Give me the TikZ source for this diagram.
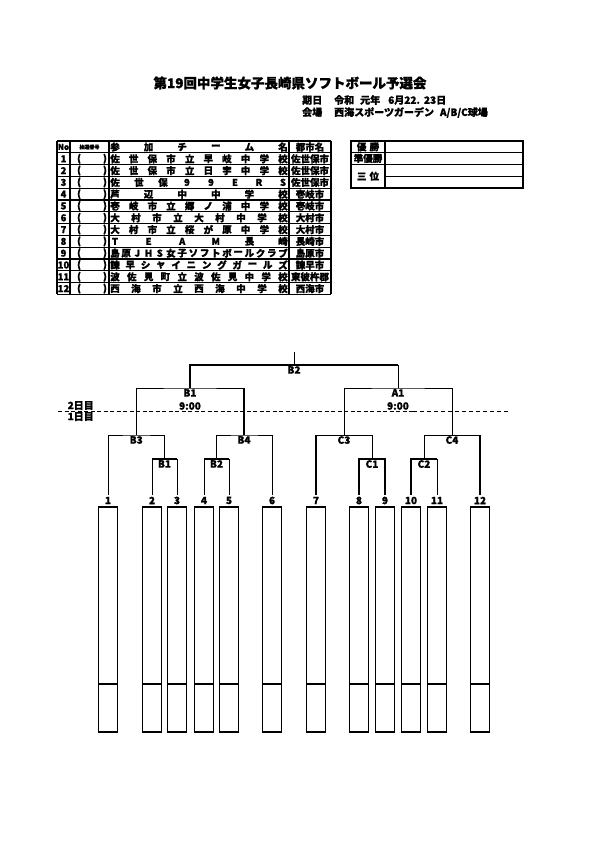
\documentclass[tikz,border=0pt]{standalone}
\usepackage{fontspec}
\setmainfont{Noto Sans CJK JP}[BoldFeatures={FakeBold=1.2}]
\tikzset{
  frame/.style={line width=1.2pt},
  leg/.style={line width=0.7pt},
  won/.style={line width=1.8pt},
  lbl/.style={font=\bfseries\fontsize{10}{10}\selectfont, inner sep=1pt},
  cell/.style={font=\bfseries\fontsize{9.5}{9.5}\selectfont, inner sep=0pt},
  tiny/.style={font=\bfseries\fontsize{5}{5}\selectfont, inner sep=0pt},
}
% spread the characters of a team name over the name column
\newcommand\teamrow[3]{%
  \foreach \ch [count=\k] in {#3}
    \node[cell] (t#1-\k) at ({115+(\k-1)*168/(#2-1)},{147+11.8*#1}) {\ch};}
\begin{document}
\begin{tikzpicture}[x=1pt,y=-1pt]
	\useasboundingbox (0,0) rectangle (595,842);
	% heading
	\node[font=\bfseries\fontsize{13.5}{13.5}\selectfont, inner sep=0pt] (title) at (290,83) {第19回中学生女子長崎県ソフトボール予選会};
	\node[font=\bfseries\fontsize{10}{10}\selectfont, inner sep=0pt, anchor=west] (date) at (302,100) {期日\hspace{12pt}令和\hspace{6pt}元年\hspace{8pt}6月22.\hspace{4pt}23日};
	\node[font=\bfseries\fontsize{10}{10}\selectfont, inner sep=0pt, anchor=west] (place) at (302,112.5) {会場\hspace{12pt}西海スポーツガーデン\hspace{6pt}A/B/C球場};
	% team list
	\foreach \y in {0,...,13} \draw[frame] (57,141+11.8*\y) -- (331,141+11.8*\y);
	\foreach \x in {57,70,109,289,331} \draw[frame] (\x,141) -- (\x,294.4);
	\node[cell] (hNo) at (63.5,147) {\fontsize{8}{8}\selectfont No};
	\node[tiny] (hLot) at (89.5,147) {抽選番号};
	\teamrow{0}{6}{参,加,チ,ー,ム,名}
	\node[cell] (hCity) at (310,147) {都市名};
	\foreach \i in {1,...,12} {
		\node[cell] (no\i) at (63.5,{147+11.8*\i}) {\i};
		\node[cell] (lo\i) at (79,{147+11.8*\i}) {(};
		\node[cell] (lc\i) at (105,{147+11.8*\i}) {)};
	}
	\teamrow{1}{10}{佐,世,保,市,立,早,岐,中,学,校}
	\teamrow{2}{10}{佐,世,保,市,立,日,宇,中,学,校}
	\teamrow{3}{8}{佐,世,保,9,9,E,R,S}
	\teamrow{4}{6}{芦,辺,中,中,学,校}
	\teamrow{5}{10}{壱,岐,市,立,郷,ノ,浦,中,学,校}
	\teamrow{6}{9}{大,村,市,立,大,村,中,学,校}
	\teamrow{7}{10}{大,村,市,立,桜,が,原,中,学,校}
	\teamrow{8}{6}{T,E,A,M,長,崎}
	\teamrow{9}{16}{島,原,J,H,S,女,子,ソ,フ,ト,ボ,ー,ル,ク,ラ,ブ}
	\teamrow{10}{12}{諫,早,シ,ャ,イ,ニ,ン,グ,ガ,ー,ル,ズ}
	\teamrow{11}{11}{波,佐,見,町,立,波,佐,見,中,学,校}
	\teamrow{12}{9}{西,海,市,立,西,海,中,学,校}
	\foreach \c [count=\i] in {佐世保市,佐世保市,佐世保市,壱岐市,壱岐市,大村市,大村市,長崎市,島原市,諫早市,東彼杵郡,西海市}
		\node[cell] (city\i) at (310,{147+11.8*\i}) {\c};
	% results
	\draw[frame] (351,141) rectangle (523,188) (385,141) -- (385,188)
		(351,152.5) -- (523,152.5) (351,164.3) -- (523,164.3) (385,176.3) -- (523,176.3);
	\node[cell] (rk1) at (368,146.8) {優\,\,勝};
	\node[cell] (rk2) at (368,158.4) {準優勝};
	\node[cell] (rk3) at (368,176.2) {三\,\,位};
	% bracket
	\coordinate (finT) at (294,352);
	\coordinate (fin) at (294,365);
	\coordinate (sB1) at (190,388);
	\coordinate (sA1) at (398,388);
	\coordinate (qB3) at (136.25,435);
	\coordinate (qB4) at (244,435);
	\coordinate (qC3) at (344,435);
	\coordinate (qC4) at (452,435);
	\coordinate (rB1) at (164.5,459);
	\coordinate (rB2) at (216.5,459);
	\coordinate (rC1) at (372,459);
	\coordinate (rC2) at (424,459);
	\foreach \x [count=\i] in {108,152,177,204,229,272,316,359,385,411,437,480} {
		\coordinate (p\i) at (\x,495);
		\node[lbl] (n\i) at (\x,500.5) {\i};
		\draw[frame] (\x-9.5,507) rectangle (\x+9.5,732) (\x-9.5,684) -- (\x+9.5,684);
	}
	% final
	\draw[leg] (finT) -- (fin);
	\draw[won] (sB1) -- (sB1|-fin) -- (sA1|-fin);
	\draw[leg] (sA1|-fin) -- (sA1);
	\node[lbl] (mB2) at (fin) [below] {B2};
	% semifinals
	\draw[leg] (qB3) |- (sB1) -- (qB4|-sB1);
	\draw[won] (qB4|-sB1) -- (qB4);
	\draw[leg] (qC3) |- (sA1) -| (qC4);
	\node[lbl] (mB1) at (sB1) [below] {B1};
	\node[lbl] (tB1) at (190,406) {9:00};
	\node[lbl] (mA1) at (sA1) [below] {A1};
	\node[lbl] (tA1) at (398,406) {9:00};
	% quarterfinals
	\draw[leg] (p1) |- (qB3) -- (rB1|-qB3);
	\draw[won] (rB1|-qB3) -- (rB1);
	\draw[leg] (p6) |- (qB4) -- (rB2|-qB4);
	\draw[won] (rB2|-qB4) -- (rB2);
	\draw[won] (p7) -- (p7|-qC3);
	\draw[leg] (p7|-qC3) -| (rC1);
	\draw[won] (p12) -- (p12|-qC4);
	\draw[leg] (p12|-qC4) -| (rC2);
	\node[lbl] (mB3) at (qB3) [below] {B3};
	\node[lbl] (mB4) at (qB4) [below] {B4};
	\node[lbl] (mC3) at (qC3) [below] {C3};
	\node[lbl] (mC4) at (qC4) [below] {C4};
	% first round
	\draw[leg] (p2) -- (p2|-rB1) (p3) -- (p3|-rB1) (p4) -- (p4|-rB2) (p5) -- (p5|-rB2) (p11) -- (p11|-rC2);
	\draw[won] (p2|-rB1) -- (p3|-rB1) (p4|-rB2) -- (p5|-rB2);
	\draw[won] (p8) |- (rC1) -| (p9);
	\draw[won] (p10) |- (rC2) -- (p11|-rC2);
	\node[lbl] (mR1) at (rB1) [below] {B1};
	\node[lbl] (mR2) at (rB2) [below] {B2};
	\node[lbl] (mR3) at (rC1) [below] {C1};
	\node[lbl] (mR4) at (rC2) [below] {C2};
	% day split
	\draw[line width=1.5pt, dash pattern=on 4pt off 2.5pt] (58,411.5) coordinate (dL) -- (413,411.5) coordinate (dM);
	\draw[line width=0.8pt, dash pattern=on 4pt off 3pt] (dM) -- (508,411.5);
	\node[lbl, anchor=east] (d2) at (95,405.5) {2日目};
	\node[lbl, anchor=east] (d1) at (95,416.5) {1日目};
\end{tikzpicture}
\end{document}
